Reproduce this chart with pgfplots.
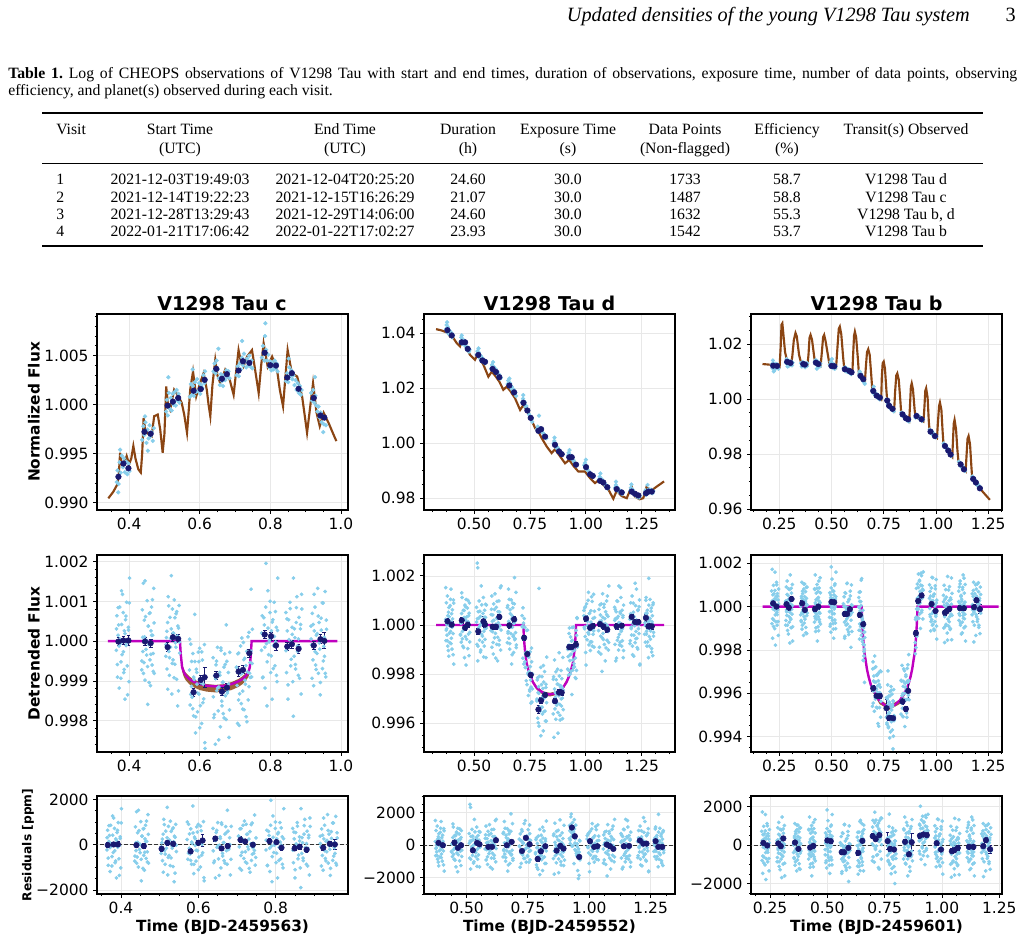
\documentclass[border=0pt]{standalone}
\usepackage{fontspec}
\setmainfont{Liberation Serif}
\newfontfamily\dv{DejaVu Sans}
\usepackage{pgfplots}
\usepackage{pgfplotstable}
\pgfplotsset{compat=1.18}
\definecolor{sky}{RGB}{135,206,235}
\definecolor{mnb}{RGB}{25,25,112}
\definecolor{brn}{RGB}{139,69,19}
\definecolor{mag}{RGB}{191,0,191}
\pgfplotsset{
  P/.style={scale only axis, width=188.25pt, anchor=north west,
    axis line style={line width=1.0pt},
    tick align=outside, tick pos=left,
    major tick length=2.8pt, minor tick length=1.6pt,
    tick style={black, line width=0.6pt},
    xmajorgrids, ymajorgrids,
    major grid style={black!9, line width=0.5pt},
    tick label style={font=\fontsize{11.6}{13}\dv},
  },
  sc/.style={only marks, mark=*, mark size=1.2pt, color=sky, mark options={draw=none, fill=sky}},
  sc1/.style={only marks, mark=*, mark size=1.4pt, color=sky, mark options={draw=none, fill=sky}},
  bn/.style={only marks, mark=*, mark size=2.1pt, color=mnb, mark options={draw=none, fill=mnb}},
  bne/.style={only marks, mark=*, mark size=2.1pt, color=mnb, mark options={draw=none, fill=mnb},
    error bars/.cd, y dir=both, y explicit,
    error bar style={line width=0.7pt, color=mnb},
    error mark options={rotate=90, mark size=1.4pt, line width=0.7pt, color=mnb}},
}
% ---------------- column 1 (V1298 Tau c) ----------------
\pgfplotstableread{
t r
0.3642 312
0.3668 -587
0.3689 845
0.3716 -123
0.3738 56
0.3765 -934
0.3787 421
0.3812 1180
0.3839 -266
0.3861 -712
0.3884 190
0.3910 633
0.3933 -45
0.3958 -1350
0.3981 278
0.4006 964
0.3638 -230
0.3654 640
0.3670 -905
0.3687 150
0.3703 410
0.3719 -1180
0.3735 860
0.3752 -60
0.3768 -520
0.3784 1270
0.3800 -340
0.3817 30
0.3833 720
0.3849 -790
0.3865 260
0.3882 -1460
0.3898 540
0.3914 -110
0.3930 980
0.3947 -620
0.3963 -20
0.3979 350
0.3995 -1020
0.4012 1590
0.4361 -498
0.4386 97
0.4405 -810
0.4431 530
0.4452 1520
0.4477 -205
0.4498 14
0.4523 -640
0.4545 380
0.4568 -1040
0.4591 712
0.4616 -330
0.4637 148
0.4660 1045
0.4684 -760
0.4707 460
0.4358 -720
0.4373 790
0.4389 -260
0.4404 1460
0.4419 -540
0.4435 110
0.4450 -980
0.4466 620
0.4481 20
0.4496 -350
0.4512 1020
0.4527 -1590
0.4543 380
0.4558 -90
0.4573 700
0.4589 -470
0.4604 -1120
0.4620 260
0.4635 860
0.4650 -600
0.4666 150
0.4681 -310
0.4697 1330
0.4712 -810
0.5043 -88
0.5070 250
0.5094 -1210
0.5121 890
0.5145 -415
0.5172 65
0.5196 1650
0.5222 -560
0.5247 205
0.5273 -920
0.5298 590
0.5325 -150
0.5349 745
0.5375 -1630
0.5400 330
0.5427 -20
0.5039 -380
0.5056 90
0.5073 -700
0.5090 470
0.5107 1120
0.5124 -260
0.5141 -860
0.5158 600
0.5175 -150
0.5193 310
0.5210 -1330
0.5227 810
0.5244 -470
0.5261 200
0.5278 1040
0.5295 -580
0.5312 -40
0.5329 690
0.5347 -960
0.5364 130
0.5381 380
0.5398 -1250
0.5415 900
0.5432 -300
0.7451 -250
0.7455 1310
0.7471 -900
0.7484 -560
0.7491 300
0.7755 205
0.7783 -920
0.7816 590
0.7844 -150
0.7876 1960
0.7905 -1630
0.7934 330
0.7966 -20
0.7993 1005
0.8024 -370
0.8054 480
0.8083 -690
0.8115 120
0.8143 745
0.8174 -860
0.8203 270
0.7750 -230
0.7770 640
0.7790 -905
0.7810 150
0.7830 410
0.7850 -1180
0.7870 860
0.7890 -60
0.7910 -520
0.7930 1270
0.7950 -340
0.7970 30
0.7990 720
0.8010 -790
0.8030 260
0.8050 -1460
0.8070 540
0.8090 -110
0.8110 980
0.8130 -620
0.8150 -20
0.8170 350
0.8190 -1020
0.8210 1590
0.8443 -240
0.8472 560
0.8503 -1100
0.8531 40
0.8562 820
0.8592 -455
0.8620 170
0.8650 -1890
0.8681 312
0.8709 -587
0.8738 845
0.8768 -123
0.8797 56
0.8827 -934
0.8856 421
0.8885 1180
0.8440 720
0.8459 -790
0.8479 260
0.8499 -1460
0.8518 540
0.8538 -110
0.8557 980
0.8577 -620
0.8597 -20
0.8616 350
0.8636 -1020
0.8655 1590
0.8675 -380
0.8695 90
0.8714 -700
0.8734 470
0.8753 1120
0.8773 -260
0.8793 -860
0.8812 600
0.8832 -150
0.8851 310
0.8871 -1330
0.8891 810
0.9154 56
0.9181 -934
0.9212 421
0.9240 1180
0.9270 -266
0.9299 -712
0.9327 190
0.9356 633
0.9385 -45
0.9413 -1350
0.9443 278
0.9471 964
0.9500 -498
0.9529 97
0.9557 -810
0.9586 530
0.9150 380
0.9169 -90
0.9188 700
0.9207 -470
0.9226 -1120
0.9246 260
0.9265 860
0.9284 -600
0.9303 150
0.9322 -310
0.9342 1330
0.9361 -810
0.9380 470
0.9399 -200
0.9418 -1040
0.9438 580
0.9457 40
0.9476 -690
0.9495 960
0.9514 -130
0.9534 -380
0.9553 1250
0.9572 -900
0.9591 300
}\cAoot
\pgfplotstableread{
t d r
0.5714 50 1005
0.5745 -1340 -370
0.5771 -510 480
0.5802 -1700 -690
0.5829 -905 120
0.5859 675 1710
0.5887 -1905 -860
0.5917 -785 270
0.5944 -1305 -240
0.5974 -515 560
0.6001 -2180 -1100
0.6031 -1045 40
0.6058 -270 820
0.6089 -1550 -455
0.6116 -930 170
0.6145 -2555 -1450
0.5710 -726 230
0.5729 -1607 -640
0.5748 -74 905
0.5767 -1140 -150
0.5786 -1412 -410
0.5806 -312 700
0.5825 -1879 -860
0.5844 -965 60
0.5863 -512 520
0.5882 -2309 -1270
0.5902 -706 340
0.5921 -1082 -30
0.5940 -1779 -720
0.5959 -276 790
0.5978 -1332 -260
0.5998 -179 900
0.6017 -1623 -540
0.6036 -977 110
0.6055 -2071 -980
0.6074 -475 620
0.6094 -1079 20
0.6113 -1453 -350
0.6132 -86 1020
0.6151 -2700 -1590
0.6385 -1401 -266
0.6414 -1847 -712
0.6447 -945 190
0.6476 -502 633
0.6508 -1180 -45
0.6538 -2485 -1350
0.6569 -857 278
0.6600 -171 964
0.6630 -1628 -498
0.6661 -1030 97
0.6691 -1932 -810
0.6722 -585 530
0.6752 412 1520
0.6783 -1307 -205
0.6814 -1082 14
0.6844 -1730 -640
0.6380 -415 720
0.6400 -1925 -790
0.6421 -875 260
0.6441 -2595 -1460
0.6462 -595 540
0.6482 -1245 -110
0.6502 -155 980
0.6523 -1755 -620
0.6543 -1155 -20
0.6564 -785 350
0.6584 -2155 -1020
0.6605 -232 900
0.6625 -1510 -380
0.6645 -1038 90
0.6666 -1826 -700
0.6686 -652 470
0.6707 -319 800
0.6727 -1375 -260
0.6747 -1971 -860
0.6768 -506 600
0.6788 -1252 -150
0.6809 -788 310
0.6829 -2424 -1330
0.6850 -280 810
0.7043 -660 380
0.7072 -2070 -1040
0.7104 -298 712
0.7131 -1325 -330
0.7161 -832 148
0.7192 80 1045
0.7219 -1710 -760
0.7249 -465 460
0.7280 -983 -88
0.7307 -615 250
0.7337 -2030 -1210
0.7367 110 890
0.7396 -1145 -415
0.7425 -535 65
0.7040 -654 380
0.7059 -1116 -90
0.7079 -318 700
0.7099 -1480 -470
0.7118 -2121 -1120
0.7138 -731 260
0.7157 -121 860
0.7177 -1571 -600
0.7197 -812 150
0.7216 -1257 -310
0.7236 -31 900
0.7255 -1726 -810
0.7275 -430 470
0.7295 -1084 -200
0.7314 -1902 -1040
0.7334 -257 580
0.7353 -774 40
0.7373 -1479 -690
0.7393 222 960
0.7412 -806 -130
0.7432 -913 -380
}\cAit
\pgfplotstableread{
t n
0.3650 0.99210
0.3672 0.99330
0.3690 0.99105
0.3701 0.99190
0.3728 0.99412
0.3745 0.99540
0.3760 0.99305
0.3790 0.99480
0.3822 0.99362
0.3851 0.99452
0.3880 0.99310
0.3912 0.99420
0.3950 0.99290
0.3985 0.99398
0.4010 0.99322
0.4370 0.99640
0.4402 0.99780
0.4430 0.99690
0.4450 0.99880
0.4462 0.99820
0.4490 0.99610
0.4520 0.99745
0.4530 0.99530
0.4551 0.99655
0.4580 0.99790
0.4612 0.99680
0.4640 0.99720
0.4670 0.99630
0.4700 0.99760
0.5045 0.99930
0.5070 1.00050
0.5095 0.99890
0.5110 1.00280
0.5122 1.00120
0.5150 0.99960
0.5178 1.00070
0.5205 0.99940
0.5232 1.00110
0.5260 1.00000
0.5290 1.00130
0.5318 0.99990
0.5345 1.00150
0.5372 1.00040
0.5400 1.00110
0.5428 1.00020
0.5720 1.00080
0.5750 1.00210
0.5780 1.00100
0.5800 1.00360
0.5808 1.00190
0.5835 1.00090
0.5865 1.00230
0.5895 1.00130
0.5925 1.00260
0.5955 1.00140
0.5985 1.00220
0.6015 1.00110
0.6045 1.00200
0.6075 1.00170
0.6105 1.00300
0.6135 1.00220
0.6150 1.00340
0.6390 1.00340
0.6420 1.00420
0.6450 1.00320
0.6478 1.00450
0.6508 1.00360
0.6530 1.00570
0.6540 1.00270
0.6570 1.00200
0.6600 1.00310
0.6630 1.00240
0.6660 1.00190
0.6690 1.00300
0.6720 1.00250
0.6750 1.00350
0.6780 1.00280
0.6815 1.00340
0.6845 1.00270
0.7045 1.00300
0.7075 1.00390
0.7105 1.00290
0.7135 1.00420
0.7165 1.00360
0.7195 1.00480
0.7200 1.00650
0.7225 1.00400
0.7255 1.00520
0.7285 1.00440
0.7315 1.00380
0.7345 1.00470
0.7375 1.00400
0.7405 1.00500
0.7435 1.00390
0.7465 1.00450
0.7490 1.00370
0.7760 1.00480
0.7790 1.00600
0.7820 1.00520
0.7835 1.00450
0.7850 1.00700
0.7860 1.00830
0.7880 1.00560
0.7910 1.00450
0.7940 1.00510
0.7970 1.00380
0.8000 1.00440
0.8030 1.00350
0.8060 1.00420
0.8090 1.00360
0.8120 1.00450
0.8150 1.00370
0.8180 1.00420
0.8205 1.00340
0.8445 1.00240
0.8475 1.00320
0.8505 1.00230
0.8520 1.00470
0.8535 1.00380
0.8565 1.00290
0.8595 1.00350
0.8625 1.00260
0.8655 1.00300
0.8685 1.00200
0.8715 1.00250
0.8745 1.00150
0.8775 1.00220
0.8805 1.00120
0.8835 1.00190
0.8865 1.00100
0.8885 1.00150
0.9155 1.00120
0.9185 1.00040
0.9215 1.00150
0.9245 1.00020
0.9265 1.00280
0.9275 1.00090
0.9305 0.99990
0.9335 0.99930
0.9365 0.99980
0.9395 0.99870
0.9425 0.99920
0.9455 0.99820
0.9485 0.99880
0.9500 0.99720
0.9515 0.99800
0.9545 0.99860
0.9575 0.99790
}\cAnc
\pgfplotstableread{
t n
0.341 0.99044
0.355 0.99110
0.367 0.99189
0.371 0.99300
0.3745 0.99510
0.379 0.99390
0.384 0.99375
0.393 0.99476
0.400 0.99392
0.406 0.99450
0.412 0.99578
0.418 0.99450
0.426 0.99341
0.433 0.99307
0.437 0.99500
0.441 0.99865
0.445 0.99760
0.450 0.99713
0.464 0.99679
0.468 0.99800
0.471 0.99882
0.481 0.99899
0.488 0.99750
0.495 0.99510
0.500 0.99700
0.505 1.00186
0.510 1.00000
0.516 0.99949
0.5275 1.00152
0.540 1.00084
0.549 1.00017
0.556 0.99900
0.564 0.99713
0.568 0.99900
0.573 1.00152
0.581 1.00338
0.590 1.00084
0.601 1.00220
0.611 1.00321
0.620 1.00152
0.625 1.00000
0.630 0.99882
0.636 1.00200
0.644 1.00456
0.650 1.00300
0.658 1.00220
0.672 1.00355
0.685 1.00253
0.696 1.00101
0.702 1.00300
0.710 1.00557
0.716 1.00450
0.724 1.00389
0.734 1.00490
0.748 1.00557
0.755 1.00400
0.767 1.00118
0.774 1.00400
0.781 1.00625
0.7925 1.00389
0.805 1.00490
0.819 1.00355
0.827 1.00150
0.836 0.99983
0.842 1.00250
0.849 1.00557
0.861 1.00321
0.876 1.00287
0.890 1.00084
0.897 0.99900
0.904 0.99713
0.912 0.99950
0.921 1.00220
0.931 0.99916
0.940 0.99780
0.951 0.99916
0.965 0.99814
0.976 0.99720
0.987 0.99628
}\cAtr
\pgfplotstableread{
t n
0.3697 0.99264
0.3840 0.99399
0.3980 0.99351
0.4435 0.99723
0.4610 0.99703
0.5090 0.99990
0.5240 1.00030
0.5390 1.00068
0.5825 1.00142
0.6030 1.00159
0.6140 1.00253
0.6470 1.00365
0.6630 1.00264
0.6770 1.00311
0.7100 1.00348
0.7225 1.00443
0.7405 1.00426
0.7840 1.00530
0.8000 1.00402
0.8160 1.00399
0.8480 1.00277
0.8610 1.00321
0.8800 1.00162
0.9230 1.00068
0.9420 0.99889
0.9530 0.99868
}\cAbn
\pgfplotstableread{
t d e
0.3697 -10 110
0.3840 17 110
0.3980 17 120
0.4450 -8 100
0.4610 -50 100
0.5090 -150 120
0.5240 100 100
0.5390 60 100
0.5825 -1285 100
0.6030 -975 110
0.6140 -908 250
0.6470 -865 110
0.6630 -1270 100
0.6770 -1170 100
0.7100 -765 130
0.7225 -723 100
0.7405 -303 100
0.7840 168 110
0.8020 126 100
0.8160 -109 120
0.8480 -134 110
0.8610 -76 100
0.8800 -193 120
0.9230 -109 100
0.9420 50 110
0.9530 8 200
}\cAbd
\pgfplotstableread{
t r e
0.3660 -15 110
0.3810 15 100
0.3920 15 110
0.4400 -15 100
0.4590 -58 100
0.5050 -174 110
0.5200 87 100
0.5350 43 100
0.5800 -290 110
0.6000 87 100
0.6110 188 280
0.6440 275 110
0.6600 -160 100
0.6760 -58 100
0.7090 217 130
0.7210 145 100
0.7410 0 100
0.7840 160 110
0.8020 116 100
0.8150 -130 120
0.8490 -160 110
0.8620 -87 100
0.8800 -217 120
0.9230 -130 100
0.9400 43 110
0.9530 15 200
}\cAbr
% ---------------- column 2 (V1298 Tau d) ----------------
\pgfplotstableread{
t r
0.3732 1520
0.3755 -205
0.3781 14
0.3803 -640
0.3828 380
0.3851 -1040
0.3875 712
0.3899 -330
0.3922 148
0.3946 1045
0.3971 -760
0.3994 460
0.4018 -88
0.4041 250
0.4065 -1210
0.4089 890
0.3728 230
0.3744 -640
0.3760 905
0.3775 -150
0.3791 -410
0.3807 1180
0.3823 -860
0.3839 60
0.3855 520
0.3870 -1270
0.3886 340
0.3902 -30
0.3918 -720
0.3934 790
0.3950 -260
0.3966 1460
0.3981 -540
0.3997 110
0.4013 -980
0.4029 620
0.4045 20
0.4061 -350
0.4076 1020
0.4092 -1590
0.4394 -415
0.4421 65
0.4449 1310
0.4476 -560
0.4504 205
0.4531 -920
0.4559 590
0.4586 -150
0.4614 745
0.4641 -1630
0.4669 330
0.4696 -20
0.4724 1005
0.4751 -370
0.4779 480
0.4806 -690
0.4389 -380
0.4408 90
0.4426 -700
0.4444 470
0.4463 1120
0.4481 -260
0.4499 -860
0.4517 600
0.4536 -150
0.4554 310
0.4572 -1330
0.4591 810
0.4609 -470
0.4627 200
0.4646 1040
0.4664 -580
0.4682 -40
0.4701 690
0.4719 -960
0.4737 130
0.4756 380
0.4774 -1250
0.4792 900
0.4810 -300
0.5114 120
0.5143 2520
0.5165 2330
0.5172 -860
0.5201 270
0.5229 -240
0.5258 560
0.5287 -1100
0.5316 40
0.5345 820
0.5374 -455
0.5402 170
0.5431 -1300
0.5460 312
0.5489 -587
0.5518 845
0.5546 -123
0.5110 720
0.5129 -790
0.5148 260
0.5167 -1460
0.5186 540
0.5206 -110
0.5225 980
0.5244 -620
0.5263 -20
0.5282 350
0.5302 -1020
0.5321 1590
0.5340 -380
0.5359 90
0.5378 -700
0.5398 470
0.5417 1120
0.5436 -260
0.5455 -860
0.5474 600
0.5494 -150
0.5513 310
0.5532 -1330
0.5551 810
0.5765 421
0.5794 1180
0.5824 -266
0.5853 -712
0.5882 190
0.5912 633
0.5941 -45
0.5971 -1350
0.6000 278
0.6029 964
0.6059 -498
0.6088 97
0.6118 -810
0.6147 530
0.6176 1520
0.6206 -205
0.5760 -230
0.5779 640
0.5799 -905
0.5819 150
0.5838 410
0.5858 -1180
0.5877 860
0.5897 -60
0.5917 -520
0.5936 1270
0.5956 -340
0.5975 30
0.5995 720
0.6015 -790
0.6034 260
0.6054 -1460
0.6073 540
0.6093 -110
0.6113 980
0.6132 -620
0.6152 -20
0.6171 350
0.6191 -1020
0.6211 1590
0.6493 712
0.6519 -330
0.6546 148
0.6572 1045
0.6598 -760
0.6625 460
0.6651 -88
0.6677 250
0.6703 -1210
0.6730 890
0.6756 -415
0.6782 65
0.6809 1930
0.6835 -560
0.6861 205
0.6887 -920
0.6489 -720
0.6506 790
0.6524 -260
0.6541 1460
0.6559 -540
0.6576 110
0.6594 -980
0.6611 620
0.6629 20
0.6646 -350
0.6664 1020
0.6681 -1590
0.6699 380
0.6716 -90
0.6734 700
0.6751 -470
0.6769 -1120
0.6786 260
0.6804 860
0.6821 -600
0.6839 150
0.6856 -310
0.6874 1330
0.6891 -810
0.7150 380
0.7155 -45
0.7170 -90
0.7184 -1350
0.7190 700
0.9564 -220
0.9583 -1850
0.9588 -422
0.9602 300
0.9616 264
0.9621 -900
0.9916 590
0.9947 -150
0.9978 745
1.0009 -1630
1.0041 330
1.0072 -20
1.0103 1005
1.0134 -370
1.0166 480
1.0197 -690
1.0228 120
1.0259 1150
1.0291 -860
1.0322 270
1.0353 -240
1.0384 560
0.9910 380
0.9931 -90
0.9952 700
0.9973 -470
0.9994 -1120
1.0015 260
1.0035 860
1.0056 -600
1.0077 150
1.0098 -310
1.0119 1330
1.0140 -810
1.0160 470
1.0181 -200
1.0202 -1040
1.0223 580
1.0244 40
1.0265 -690
1.0285 960
1.0306 -130
1.0327 -380
1.0348 1250
1.0369 -900
1.0390 300
1.0575 -1100
1.0605 40
1.0635 820
1.0665 -455
1.0695 170
1.0725 -1890
1.0755 312
1.0785 -587
1.0815 845
1.0845 -123
1.0875 56
1.0905 -934
1.0935 421
1.0965 1180
1.0995 -266
1.1025 -712
1.0570 -230
1.0590 640
1.0610 -905
1.0630 150
1.0650 410
1.0670 -1180
1.0690 860
1.0710 -60
1.0730 -520
1.0750 1270
1.0770 -340
1.0790 30
1.0810 720
1.0830 -790
1.0850 260
1.0870 -1460
1.0890 540
1.0910 -110
1.0930 980
1.0950 -620
1.0970 -20
1.0990 350
1.1010 -1020
1.1030 1590
1.1293 190
1.1319 633
1.1346 -45
1.1372 -1350
1.1398 278
1.1425 964
1.1451 -498
1.1477 97
1.1503 -810
1.1530 530
1.1556 1520
1.1582 -205
1.1609 14
1.1635 -640
1.1661 380
1.1687 -1040
1.1289 720
1.1306 -790
1.1324 260
1.1341 -1460
1.1359 540
1.1376 -110
1.1394 980
1.1411 -620
1.1429 -20
1.1446 350
1.1464 -1020
1.1481 1590
1.1499 -380
1.1516 90
1.1534 -700
1.1551 470
1.1569 1120
1.1586 -260
1.1604 -860
1.1621 600
1.1639 -150
1.1656 310
1.1674 -1330
1.1691 810
1.1975 -760
1.2004 460
1.2034 -88
1.2063 250
1.2092 -1210
1.2122 890
1.2151 -415
1.2181 65
1.2210 1700
1.2239 -560
1.2269 205
1.2298 -920
1.2328 590
1.2357 -150
1.2386 745
1.2416 -1630
1.1970 230
1.1989 -640
1.2009 905
1.2029 -150
1.2048 -410
1.2068 1180
1.2087 -860
1.2107 60
1.2127 520
1.2146 -1270
1.2166 340
1.2185 -30
1.2205 -720
1.2225 790
1.2244 -260
1.2264 1460
1.2283 -540
1.2303 110
1.2323 -980
1.2342 620
1.2362 20
1.2381 -350
1.2401 1020
1.2421 -1590
1.2633 330
1.2659 -20
1.2686 1005
1.2712 -370
1.2738 480
1.2765 -690
1.2791 120
1.2817 1900
1.2843 -860
1.2870 270
1.2896 -240
1.2922 560
1.2949 -1100
1.2975 40
1.3001 820
1.3027 -455
1.2629 -380
1.2646 90
1.2664 -700
1.2681 470
1.2699 1120
1.2716 -260
1.2734 -860
1.2751 600
1.2769 -150
1.2786 310
1.2804 -1330
1.2821 810
1.2839 -470
1.2856 200
1.2874 1040
1.2891 -580
1.2909 -40
1.2926 690
1.2944 -960
1.2961 130
1.2979 380
1.2996 -1250
1.3014 900
1.3031 -300
}\cBoot
\pgfplotstableread{
t d r
0.7215 78 278
0.7246 264 964
0.7275 -1498 -498
0.7305 -1183 97
0.7335 -2270 -810
0.7366 -1100 530
0.7395 -210 1520
0.7425 -2025 -205
0.7455 -1896 14
0.7486 -2630 -640
0.7515 -1690 380
0.7545 -3180 -1040
0.7575 -1498 712
0.7605 -2600 -330
0.7210 -570 -470
0.7230 -1590 -1120
0.7250 -490 260
0.7270 -90 860
0.7290 -1735 -600
0.7310 -1125 150
0.7330 -1720 -310
0.7350 -220 1330
0.7370 -2430 -810
0.7390 -1220 470
0.7410 -1960 -200
0.7430 -2870 -1040
0.7450 -1310 580
0.7470 -1905 40
0.7490 -2690 -690
0.7510 -1090 960
0.7530 -2235 -130
0.7550 -2530 -380
0.7570 -940 1250
0.7590 -3135 -900
0.7610 -1980 300
0.7814 -3017 -452
0.7843 -2145 445
0.7872 -3980 -1360
0.7901 -2780 -140
0.7905 1490 4130
0.7929 -3348 -688
0.7958 -3035 -350
0.7987 -4510 -1810
0.8016 -2425 290
0.8044 -3345 -615
0.8073 -2880 -135
0.8101 -1650 1110
0.8131 -3530 -760
0.8159 -2775 5
0.8188 -3910 -1120
0.8216 -2410 390
0.8245 -3160 -350
0.7810 -3090 -530
0.7829 -2235 340
0.7848 -3795 -1205
0.7867 -2755 -150
0.7886 -2510 110
0.7906 -4116 -1480
0.7925 -2092 560
0.7944 -3027 -360
0.7963 -3502 -820
0.7982 -1728 970
0.8002 -3348 -640
0.8021 -2986 -270
0.8040 -2105 620
0.8059 -3624 -890
0.8078 -2582 160
0.8098 -4311 -1560
0.8117 -2320 440
0.8136 -2978 -210
0.8155 -1897 880
0.8174 -3505 -720
0.8194 -2911 -120
0.8213 -2543 250
0.8232 -3915 -1120
0.8251 -1307 1490
0.8545 -2210 595
0.8574 -4575 -1780
0.8604 -2605 180
0.8633 -2945 -170
0.8663 -1905 855
0.8692 -3270 -520
0.8721 -2405 330
0.8751 -3560 -840
0.8780 -2730 -30
0.8809 -1130 1560
0.8839 -3675 -1010
0.8868 -2525 120
0.8898 -3010 -390
0.8927 -2185 410
0.8956 -3815 -1250
0.8986 -2650 -110
0.8540 -3620 -820
0.8559 -2106 690
0.8579 -3152 -360
0.8599 -1424 1360
0.8618 -3415 -640
0.8638 -2756 10
0.8657 -3838 -1080
0.8677 -2229 520
0.8697 -2820 -80
0.8716 -3181 -450
0.8736 -1802 920
0.8755 -4404 -1690
0.8775 -2425 280
0.8795 -2882 -190
0.8814 -2077 600
0.8834 -3231 -570
0.8853 -3866 -1220
0.8873 -2470 160
0.8893 -1854 760
0.8912 -3298 -700
0.8932 -2532 50
0.8951 -2977 -410
0.8971 -1321 1230
0.8991 -3445 -910
0.9194 -998 1212
0.9222 -1837 313
0.9250 -345 1745
0.9278 -1233 777
0.9306 -974 956
0.9334 -1884 -34
0.9362 -959 821
0.9391 -100 1580
0.9419 -1426 134
0.9447 -1722 -312
0.9475 -1690 -510
0.9503 -1017 -67
0.9531 -1345 -745
0.9559 -2180 -2050
0.9189 -1797 420
0.9208 -1287 890
0.9227 -2037 100
0.9246 -820 1270
0.9264 -122 1920
0.9283 -1450 540
0.9302 -1999 -60
0.9321 -488 1400
0.9339 -1186 650
0.9358 -659 1110
0.9377 -2832 -1130
0.9396 -625 1010
0.9414 -1841 -270
0.9433 -1060 400
0.9452 -88 1240
0.9471 -1577 -380
0.9489 -1711 -640
0.9508 -765 90
0.9527 -2142 -1560
0.9546 -850 -470
}\cBit
\pgfplotstableread{
t n
0.3740 1.0415
0.3770 1.0430
0.3790 1.0440
0.3800 1.0405
0.3830 1.0422
0.3860 1.0398
0.3900 1.0410
0.3940 1.0392
0.3980 1.0402
0.4020 1.0385
0.4060 1.0392
0.4400 1.0370
0.4430 1.0385
0.4450 1.0392
0.4460 1.0362
0.4490 1.0378
0.4530 1.0360
0.4570 1.0372
0.4610 1.0355
0.4650 1.0350
0.4690 1.0340
0.4730 1.0348
0.4770 1.0333
0.4800 1.0340
0.5120 1.0322
0.5150 1.0335
0.5180 1.0318
0.5200 1.0345
0.5210 1.0330
0.5250 1.0310
0.5290 1.0318
0.5330 1.0300
0.5370 1.0310
0.5410 1.0295
0.5450 1.0302
0.5490 1.0290
0.5530 1.0298
0.5770 1.0272
0.5800 1.0285
0.5840 1.0268
0.5850 1.0295
0.5880 1.0278
0.5920 1.0260
0.5960 1.0270
0.6000 1.0255
0.6040 1.0260
0.6080 1.0245
0.6120 1.0250
0.6160 1.0235
0.6200 1.0238
0.6500 1.0215
0.6530 1.0228
0.6570 1.0210
0.6580 1.0235
0.6610 1.0218
0.6650 1.0200
0.6690 1.0205
0.6730 1.0190
0.6770 1.0195
0.6810 1.0180
0.6850 1.0185
0.6880 1.0172
0.7160 1.0150
0.7190 1.0162
0.7200 1.0175
0.7220 1.0145
0.7260 1.0150
0.7300 1.0132
0.7340 1.0135
0.7380 1.0120
0.7420 1.0118
0.7460 1.0105
0.7500 1.0100
0.7540 1.0090
0.7580 1.0088
0.7600 1.0078
0.7820 1.0052
0.7850 1.0060
0.7880 1.0042
0.7905 1.0100
0.7910 1.0050
0.7950 1.0055
0.7990 1.0048
0.8030 1.0052
0.8070 1.0038
0.8110 1.0035
0.8150 1.0028
0.8190 1.0022
0.8230 1.0018
0.8560 1.0000
0.8590 1.0008
0.8600 1.0020
0.8620 0.9992
0.8650 0.9998
0.8690 0.9982
0.8730 0.9985
0.8770 0.9972
0.8810 0.9975
0.8850 0.9965
0.8890 0.9968
0.8930 0.9958
0.8970 0.9960
0.9200 0.9955
0.9230 0.9965
0.9260 0.9950
0.9270 0.9975
0.9290 0.9958
0.9330 0.9945
0.9370 0.9952
0.9410 0.9940
0.9450 0.9938
0.9490 0.9930
0.9530 0.9925
0.9570 0.9918
0.9600 0.9922
0.9930 0.9920
0.9960 0.9928
0.9990 0.9912
1.0000 0.9940
1.0030 0.9915
1.0070 0.9902
1.0110 0.9900
1.0150 0.9890
1.0190 0.9892
1.0230 0.9882
1.0270 0.9885
1.0310 0.9878
1.0350 0.9880
1.0590 0.9868
1.0620 0.9878
1.0650 0.9890
1.0660 0.9862
1.0700 0.9870
1.0740 0.9858
1.0780 0.9862
1.0820 0.9850
1.0860 0.9852
1.0900 0.9842
1.0940 0.9845
1.0980 0.9835
1.1010 0.9838
1.1310 0.9838
1.1340 0.9848
1.1350 0.9860
1.1380 0.9832
1.1420 0.9838
1.1460 0.9825
1.1500 0.9830
1.1540 0.9820
1.1580 0.9825
1.1620 0.9815
1.1660 0.9820
1.1990 0.9828
1.2020 0.9838
1.2040 0.9850
1.2060 0.9822
1.2100 0.9830
1.2140 0.9815
1.2180 0.9820
1.2220 0.9810
1.2260 0.9815
1.2300 0.9805
1.2340 0.9812
1.2380 0.9802
1.2410 0.9808
1.2640 0.9815
1.2670 0.9828
1.2700 0.9812
1.2740 0.9822
1.2760 0.9848
1.2780 0.9830
1.2820 0.9820
1.2860 0.9832
1.2900 0.9822
1.2940 0.9830
1.2980 0.9818
1.3020 0.9826
}\cBnc
\pgfplotstableread{
t n
0.330 1.0415
0.355 1.0410
0.381 1.0402
0.393 1.0388
0.400 1.0392
0.4225 1.0364
0.437 1.0352
0.445 1.0376
0.455 1.0362
0.467 1.0345
0.482 1.0321
0.504 1.0303
0.515 1.0321
0.528 1.0305
0.542 1.0285
0.564 1.0242
0.579 1.0260
0.595 1.0245
0.613 1.0224
0.631 1.0194
0.646 1.0206
0.662 1.0190
0.683 1.0164
0.706 1.0121
0.721 1.0139
0.736 1.0118
0.7535 1.0091
0.773 1.0055
0.788 1.0042
0.803 1.0018
0.825 0.9988
0.847 0.9964
0.862 0.9978
0.885 0.9952
0.907 0.9927
0.926 0.9939
0.944 0.9918
0.9665 0.9897
0.996 0.9897
1.019 0.9873
1.041 0.9855
1.060 0.9867
1.078 0.9848
1.100 0.9833
1.123 0.9798
1.138 0.9827
1.160 0.9808
1.183 0.9800
1.205 0.9842
1.220 0.9806
1.240 0.9796
1.257 0.9800
1.272 0.9842
1.287 0.9824
1.317 0.9842
1.350 0.9861
}\cBtr
\pgfplotstableread{
t n
0.381 1.0411
0.400 1.0392
0.445 1.0367
0.460 1.0367
0.4717 1.0343
0.519 1.0321
0.537 1.0301
0.549 1.0296
0.583 1.0270
0.598 1.0259
0.613 1.0240
0.658 1.0210
0.679 1.0185
0.721 1.0147
0.7385 1.0119
0.7535 1.0092
0.788 1.0045
0.800 1.0051
0.8175 1.0024
0.862 0.9994
0.880 0.9970
0.892 0.9960
0.926 0.9949
0.937 0.9949
0.956 0.9922
1.001 0.9913
1.019 0.9887
1.031 0.9881
1.0635 0.9863
1.0785 0.9857
1.096 0.9840
1.138 0.9833
1.1605 0.9821
1.205 0.9824
1.220 0.9816
1.235 0.9810
1.269 0.9818
1.280 0.9824
1.295 0.9824
}\cBbn
\pgfplotstableread{
t d e
0.381 150 120
0.400 14 120
0.445 190 110
0.460 -110 110
0.4717 14 110
0.519 -260 110
0.542 150 200
0.549 14 110
0.583 -70 110
0.598 -70 110
0.613 330 110
0.658 -14 110
0.679 230 110
0.724 -520 110
0.7385 -1180 110
0.7535 -2030 110
0.788 -3440 180
0.800 -3070 130
0.8175 -2850 110
0.862 -3100 110
0.880 -2750 110
0.892 -2750 110
0.926 -900 110
0.937 -900 110
0.956 -800 110
1.001 260 110
1.019 -110 110
1.031 -40 110
1.0635 40 110
1.0785 -55 110
1.096 -190 120
1.138 -55 110
1.1605 -27 110
1.205 330 110
1.220 120 110
1.235 120 110
1.269 290 150
1.280 -55 110
1.295 -55 110
}\cBbd
\pgfplotstableread{
t r e
0.386 145 110
0.404 0 110
0.451 165 110
0.465 -165 110
0.478 0 110
0.526 -310 110
0.543 145 180
0.553 60 110
0.589 -100 110
0.604 -100 110
0.620 310 110
0.664 0 110
0.684 205 110
0.726 -350 110
0.742 450 110
0.757 60 110
0.790 -845 150
0.803 -370 110
0.821 -60 110
0.867 -330 110
0.882 -40 110
0.895 -205 110
0.929 1090 110
0.941 555 110
0.959 -720 110
1.003 250 110
1.020 -100 110
1.033 -60 110
1.071 40 110
1.084 -60 110
1.098 -225 110
1.141 -60 110
1.162 -40 110
1.206 290 110
1.220 100 110
1.233 100 110
1.270 250 150
1.281 -100 110
1.297 -100 110
}\cBbr
% ---------------- column 3 (V1298 Tau b) ----------------
\pgfplotstableread{
t r
0.2141 65
0.2163 1720
0.2185 -560
0.2207 205
0.2229 -920
0.2251 590
0.2273 -150
0.2295 745
0.2317 -1780
0.2339 330
0.2361 -20
0.2383 1005
0.2405 -370
0.2427 480
0.2449 -690
0.2471 120
0.2137 720
0.2152 -790
0.2167 260
0.2181 -1460
0.2196 540
0.2210 -110
0.2225 980
0.2239 -620
0.2254 -20
0.2269 350
0.2283 -1020
0.2298 1590
0.2312 -380
0.2327 90
0.2342 -700
0.2356 470
0.2371 1120
0.2385 -260
0.2400 -860
0.2415 600
0.2429 -150
0.2444 310
0.2458 -1330
0.2473 810
0.2811 -860
0.2833 270
0.2855 -240
0.2877 560
0.2899 -1100
0.2921 40
0.2943 820
0.2965 -455
0.2987 170
0.3009 -1680
0.3031 312
0.3053 -587
0.3075 845
0.3097 -123
0.3119 56
0.3141 -934
0.2807 230
0.2822 -640
0.2837 905
0.2851 -150
0.2866 -410
0.2880 1180
0.2895 -860
0.2909 60
0.2924 520
0.2939 -1270
0.2953 340
0.2968 -30
0.2982 -720
0.2997 790
0.3012 -260
0.3026 1460
0.3041 -540
0.3055 110
0.3070 -980
0.3085 620
0.3099 20
0.3114 -350
0.3128 1020
0.3143 -1590
0.3530 14
0.3551 -640
0.3571 380
0.3592 -1040
0.3612 712
0.3633 -330
0.3654 148
0.3674 1045
0.3695 -760
0.3715 460
0.3736 -88
0.3757 250
0.3777 -1210
0.3798 890
0.3818 -415
0.3839 65
0.3527 -380
0.3541 90
0.3554 -700
0.3568 470
0.3582 1120
0.3596 -260
0.3609 -860
0.3623 600
0.3637 -150
0.3651 310
0.3664 -1330
0.3678 810
0.3692 -470
0.3706 200
0.3719 1040
0.3733 -580
0.3747 -40
0.3761 690
0.3774 -960
0.3788 130
0.3802 380
0.3816 -1250
0.3829 900
0.3843 -300
0.4189 820
0.4208 -455
0.4227 170
0.4245 -1150
0.4264 312
0.4283 -587
0.4302 845
0.4320 -123
0.4339 56
0.4358 -934
0.4377 421
0.4395 1180
0.4414 -266
0.4433 -712
0.4452 190
0.4470 633
0.4186 -720
0.4199 790
0.4211 -260
0.4224 1460
0.4236 -540
0.4249 110
0.4261 -980
0.4274 620
0.4286 20
0.4299 -350
0.4311 1020
0.4324 -1590
0.4336 380
0.4349 -90
0.4361 700
0.4374 -470
0.4386 -1120
0.4399 260
0.4411 860
0.4424 -600
0.4436 150
0.4449 -310
0.4461 1330
0.4474 -810
0.4910 -498
0.4930 97
0.4950 -810
0.4970 530
0.4990 1830
0.5010 -205
0.5030 14
0.5050 -640
0.5070 380
0.5090 -1040
0.5110 712
0.5130 -330
0.5150 148
0.5170 1045
0.5190 -760
0.5210 460
0.4907 -230
0.4920 640
0.4933 -905
0.4947 150
0.4960 410
0.4973 -1180
0.4987 860
0.5000 -60
0.5013 -520
0.5027 1270
0.5040 -340
0.5053 30
0.5067 720
0.5080 -790
0.5093 260
0.5107 -1460
0.5120 540
0.5133 -110
0.5147 980
0.5160 -620
0.5173 -20
0.5187 350
0.5200 -1020
0.5213 1590
0.5574 -338
0.5601 0
0.5629 -1460
0.5656 640
0.5684 -665
0.5711 -185
0.5739 1060
0.5766 -810
0.5794 -45
0.5821 -1170
0.5849 340
0.5876 -400
0.5904 495
0.5931 -1880
0.5959 80
0.5986 -270
0.5569 130
0.5588 -340
0.5606 450
0.5624 -720
0.5643 -1370
0.5661 10
0.5679 610
0.5697 -850
0.5716 -100
0.5734 -560
0.5752 1080
0.5771 -1060
0.5789 220
0.5807 -450
0.5826 -1290
0.5844 330
0.5862 -210
0.5881 -940
0.5899 710
0.5917 -380
0.5936 -630
0.5954 1000
0.5972 -1150
0.5990 50
0.6309 -22
0.6328 664
0.6347 -798
0.6366 -203
0.6384 -1110
0.6403 230
0.6422 1220
0.6441 -505
0.6306 420
0.6319 -1090
0.6331 -40
0.6344 -1500
0.6356 240
0.6369 -410
0.6381 680
0.6394 -920
0.6406 -320
0.6419 50
0.6431 -1320
0.6444 1290
0.9125 390
0.9137 -140
0.9142 -70
0.9158 1500
0.9162 880
0.9175 110
0.9187 -540
0.9192 480
0.9208 1170
0.9212 1212
0.9225 -340
0.9237 170
0.9242 710
0.9258 -1010
0.9262 648
0.9275 990
0.9287 1545
0.9292 340
0.9308 1430
0.9312 -260
0.9325 -170
0.9337 960
0.9342 430
0.9358 800
0.9362 412
0.9375 -570
0.9387 750
0.9392 1600
0.9692 1005
0.9715 -370
0.9738 480
0.9761 -690
0.9784 120
0.9807 1350
0.9830 -860
0.9853 270
0.9876 -240
0.9899 560
0.9922 -1100
0.9945 40
0.9968 820
0.9991 -455
1.0014 170
1.0037 -1500
0.9688 380
0.9703 -90
0.9718 700
0.9734 -470
0.9749 -1120
0.9765 260
0.9780 860
0.9796 -600
0.9811 150
0.9826 -310
0.9842 1330
0.9857 -810
0.9873 470
0.9888 -200
0.9903 -1040
0.9919 580
0.9934 40
0.9950 -690
0.9965 960
0.9980 -130
0.9996 -380
1.0011 1250
1.0027 -900
1.0042 300
1.0363 221
1.0390 980
1.0417 -466
1.0444 -912
1.0471 -10
1.0498 433
1.0525 -245
1.0552 -1550
1.0579 78
1.0606 764
1.0633 -698
1.0660 -103
1.0687 -1010
1.0714 330
1.0741 1320
1.0768 -405
1.0359 520
1.0377 -990
1.0395 60
1.0413 -1660
1.0431 340
1.0449 -310
1.0466 780
1.0484 -820
1.0502 -220
1.0520 150
1.0538 -1220
1.0556 1390
1.0574 -580
1.0592 -110
1.0610 -900
1.0628 270
1.0645 920
1.0663 -460
1.0681 -1060
1.0699 400
1.0717 -350
1.0735 110
1.0753 -1530
1.0771 610
1.1091 712
1.1112 -330
1.1133 148
1.1154 1045
1.1175 -760
1.1196 460
1.1217 -88
1.1238 250
1.1259 -1210
1.1280 890
1.1301 -415
1.1322 65
1.1343 1310
1.1364 -560
1.1385 205
1.1406 -920
1.1087 230
1.1101 -640
1.1115 905
1.1130 -150
1.1144 -410
1.1158 1180
1.1172 -860
1.1186 60
1.1201 520
1.1215 -1270
1.1229 340
1.1243 -30
1.1257 -720
1.1272 790
1.1286 -260
1.1300 1460
1.1314 -540
1.1328 110
1.1343 -980
1.1357 620
1.1371 20
1.1385 -350
1.1399 1020
1.1414 -1590
1.1733 590
1.1760 -150
1.1787 745
1.1814 -1630
1.1841 330
1.1868 -20
1.1895 1005
1.1922 -370
1.1949 480
1.1976 -690
1.2003 120
1.2030 1100
1.2057 -860
1.2084 270
1.2111 -240
1.2138 560
1.1729 -380
1.1747 90
1.1765 -700
1.1783 470
1.1801 1120
1.1819 -260
1.1836 -860
1.1854 600
1.1872 -150
1.1890 310
1.1908 -1330
1.1926 810
1.1944 -470
1.1962 200
1.1980 1040
1.1998 -580
1.2015 -40
1.2033 690
1.2051 -960
1.2069 130
1.2087 380
1.2105 -1250
1.2123 900
1.2141 -300
}\cCoot
\pgfplotstableread{
t d r
0.6459 -436 14
0.6478 -1510 -640
0.6497 -770 380
0.6516 -2470 -1040
0.6534 -988 712
0.6553 -2280 -330
0.6572 -1962 148
0.6591 -1175 1045
0.6456 -740 -380
0.6469 -560 90
0.6481 -1620 -700
0.6494 -640 470
0.6506 -170 1120
0.6519 -1745 -260
0.6531 -2490 -860
0.6544 -1190 600
0.6556 -2080 -150
0.6569 -1770 310
0.6581 -3500 -1330
0.6594 -1430 810
0.6963 -4600 -810
0.6990 -2550 1290
0.7017 -3905 -15
0.7044 -3475 465
0.7071 -2280 1710
0.7098 -4200 -160
0.7125 -3485 605
0.7152 -4650 -520
0.7179 -3180 990
0.7206 -3960 250
0.7233 -3105 1145
0.7260 -5520 -1230
0.7287 -3590 730
0.7314 -3970 380
0.7341 -2970 1405
0.7368 -4370 30
0.6959 -3705 70
0.6977 -2875 940
0.6995 -4453 -605
0.7013 -3432 450
0.7031 -3205 710
0.7049 -4829 -880
0.7066 -2823 1160
0.7084 -3776 240
0.7102 -4270 -220
0.7120 -2782 1300
0.7138 -4151 -40
0.7156 -3807 330
0.7174 -3142 1020
0.7192 -4678 -490
0.7210 -3653 560
0.7228 -5398 -1160
0.7245 -3422 840
0.7263 -4098 190
0.7281 -3033 1280
0.7299 -4659 -320
0.7317 -4075 280
0.7335 -3720 650
0.7353 -5106 -720
0.7371 -3002 1400
0.7632 -4200 380
0.7656 -5370 -790
0.7680 -4560 20
0.7704 -2970 1610
0.7728 -5540 -960
0.7752 -4410 170
0.7776 -4920 -340
0.7800 -4120 460
0.7824 -5780 -1200
0.7848 -4640 -60
0.7872 -3860 720
0.7896 -5135 -555
0.7920 -4510 70
0.7944 -6570 -1990
0.7968 -4368 212
0.7992 -5267 -687
0.7628 -5110 -530
0.7644 -4640 -60
0.7660 -5430 -850
0.7675 -4260 320
0.7691 -3610 970
0.7707 -4990 -410
0.7723 -5590 -1010
0.7739 -4130 450
0.7755 -4880 -300
0.7770 -4420 160
0.7786 -6060 -1480
0.7802 -3920 660
0.7818 -5200 -620
0.7834 -4530 50
0.7850 -3690 890
0.7866 -5310 -730
0.7881 -4770 -190
0.7897 -4040 540
0.7913 -5690 -1110
0.7929 -4600 -20
0.7945 -4350 230
0.7961 -5980 -1400
0.7976 -3830 750
0.7992 -5030 -450
0.8332 -3400 845
0.8357 -4328 -123
0.8382 -4114 56
0.8407 -5069 -934
0.8432 -3679 421
0.8457 -2875 1180
0.8482 -4276 -266
0.8507 -4677 -712
0.8532 -3720 190
0.8557 -3227 633
0.8582 -3860 -45
0.8607 -5110 -1350
0.8632 -3432 278
0.8657 -2686 964
0.8682 -4093 -498
0.8707 -3413 97
0.8328 -4964 -720
0.8345 -3430 790
0.8362 -4456 -260
0.8378 -2713 1460
0.8395 -4689 -540
0.8412 -4015 110
0.8428 -5082 -980
0.8445 -3452 620
0.8462 -4021 20
0.8478 -4361 -350
0.8495 -2959 1020
0.8512 -5538 -1590
0.8528 -3538 380
0.8545 -3975 -90
0.8562 -3154 700
0.8578 -4294 -470
0.8595 -4907 -1120
0.8612 -3490 260
0.8628 -2854 860
0.8645 -4277 -600
0.8662 -3490 150
0.8678 -3914 -310
0.8695 -2218 1330
0.8712 -4298 -810
0.9012 -2180 -310
0.9037 -500 1030
0.9062 840 2020
0.9087 -495 295
0.9112 384 514
0.9008 -1660 220
0.9025 -590 1090
0.9042 -1895 -455
0.9058 -600 600
0.9075 -110 860
0.9092 -1360 -730
0.9108 1040 1310
}\cCit
\pgfplotstableread{
t n
0.2150 1.0125
0.2180 1.0112
0.2200 1.0140
0.2210 1.0130
0.2240 1.0100
0.2270 1.0122
0.2300 1.0108
0.2340 1.0128
0.2380 1.0115
0.2420 1.0125
0.2460 1.0110
0.2820 1.0132
0.2850 1.0145
0.2880 1.0128
0.2900 1.0118
0.2910 1.0140
0.2950 1.0120
0.2990 1.0138
0.3030 1.0125
0.3070 1.0136
0.3110 1.0122
0.3140 1.0132
0.3540 1.0130
0.3580 1.0118
0.3620 1.0134
0.3660 1.0122
0.3700 1.0130
0.3740 1.0115
0.3780 1.0128
0.3820 1.0120
0.3840 1.0130
0.4200 1.0135
0.4240 1.0142
0.4280 1.0125
0.4300 1.0110
0.4320 1.0138
0.4360 1.0120
0.4400 1.0132
0.4440 1.0118
0.4465 1.0128
0.4920 1.0125
0.4960 1.0135
0.5000 1.0118
0.5020 1.0145
0.5040 1.0130
0.5080 1.0112
0.5120 1.0125
0.5160 1.0110
0.5200 1.0118
0.5580 1.0112
0.5620 1.0105
0.5660 1.0115
0.5700 1.0100
0.5740 1.0110
0.5780 1.0098
0.5820 1.0108
0.5860 1.0095
0.5900 1.0102
0.5940 1.0090
0.5980 1.0098
0.6320 1.0090
0.6350 1.0100
0.6360 1.0080
0.6400 1.0092
0.6440 1.0078
0.6480 1.0075
0.6520 1.0065
0.6560 1.0060
0.6590 1.0055
0.6970 1.0035
0.7000 1.0022
0.7020 1.0045
0.7040 1.0030
0.7080 1.0015
0.7120 1.0020
0.7160 1.0008
0.7200 1.0015
0.7240 1.0002
0.7280 1.0010
0.7320 0.9998
0.7360 1.0005
0.7640 0.9998
0.7670 0.9988
0.7700 0.9980
0.7730 0.9985
0.7760 0.9972
0.7790 0.9975
0.7820 0.9965
0.7860 0.9970
0.7900 0.9960
0.7940 0.9966
0.7980 0.9955
0.8340 0.9950
0.8380 0.9940
0.8420 0.9946
0.8460 0.9935
0.8500 0.9940
0.8540 0.9928
0.8580 0.9932
0.8620 0.9922
0.8660 0.9928
0.8700 0.9918
0.9020 0.9932
0.9060 0.9942
0.9100 0.9935
0.9140 0.9938
0.9180 0.9930
0.9220 0.9935
0.9260 0.9925
0.9300 0.9930
0.9340 0.9920
0.9380 0.9925
0.9700 0.9888
0.9740 0.9878
0.9780 0.9884
0.9820 0.9872
0.9860 0.9876
0.9900 0.9865
0.9940 0.9870
0.9980 0.9860
1.0020 0.9864
1.0370 0.9838
1.0410 0.9828
1.0450 0.9832
1.0490 0.9820
1.0530 0.9822
1.0570 0.9810
1.0610 0.9812
1.0650 0.9800
1.0690 0.9802
1.0730 0.9792
1.0760 0.9795
1.1100 0.9772
1.1140 0.9762
1.1180 0.9766
1.1220 0.9752
1.1260 0.9756
1.1300 0.9745
1.1340 0.9748
1.1390 0.9738
1.1740 0.9718
1.1780 0.9708
1.1820 0.9712
1.1860 0.9698
1.1900 0.9702
1.1940 0.9690
1.1980 0.9692
1.2020 0.9682
1.2060 0.9685
1.2100 0.9672
1.2140 0.9676
}\cCnc
\pgfplotstableread{
t n
0.170 1.0127
0.245 1.0122
0.252 1.0118
0.257 1.0190
0.261 1.0270
0.265 1.0275
0.270 1.0235
0.278 1.0170
0.288 1.0138
0.305 1.0128
0.312 1.0150
0.320 1.0215
0.328 1.0240
0.334 1.0228
0.345 1.0160
0.355 1.0130
0.385 1.0122
0.390 1.0160
0.395 1.0222
0.400 1.0233
0.407 1.0215
0.418 1.0150
0.425 1.0128
0.448 1.0120
0.454 1.0170
0.460 1.0225
0.465 1.0233
0.472 1.0210
0.485 1.0150
0.492 1.0120
0.522 1.0113
0.528 1.0180
0.535 1.0255
0.540 1.0263
0.547 1.0235
0.556 1.0150
0.562 1.0105
0.600 1.0093
0.603 1.0150
0.608 1.0230
0.612 1.0245
0.618 1.0225
0.626 1.0150
0.632 1.0085
0.660 1.0062
0.664 1.0110
0.670 1.0170
0.676 1.0181
0.683 1.0160
0.691 1.0080
0.696 1.0025
0.738 0.9998
0.741 1.0080
0.745 1.0130
0.750 1.0136
0.756 1.0110
0.763 1.0030
0.767 0.9990
0.800 0.9958
0.804 1.0020
0.810 1.0085
0.815 1.0093
0.822 1.0070
0.830 0.9990
0.834 0.9945
0.872 0.9918
0.876 0.9980
0.880 1.0045
0.884 1.0057
0.890 1.0035
0.898 0.9960
0.902 0.9935
0.940 0.9918
0.944 0.9960
0.949 1.0030
0.953 1.0039
0.960 1.0005
0.966 0.9915
0.970 0.9880
1.005 0.9858
1.009 0.9910
1.015 0.9975
1.019 0.9987
1.026 0.9960
1.032 0.9880
1.036 0.9835
1.078 0.9790
1.081 0.9840
1.085 0.9910
1.089 0.9924
1.096 0.9890
1.103 0.9810
1.108 0.9770
1.142 0.9738
1.146 0.9790
1.151 0.9855
1.156 0.9865
1.163 0.9835
1.169 0.9760
1.173 0.9715
1.215 0.9670
1.258 0.9633
}\cCtr
\pgfplotstableread{
t n
0.221 1.0121
0.240 1.0120
0.288 1.0135
0.304 1.0131
0.365 1.0127
0.373 1.0125
0.4255 1.0132
0.437 1.0127
0.500 1.0120
0.513 1.0119
0.564 1.0108
0.585 1.0102
0.596 1.0097
0.639 1.0084
0.652 1.0072
0.700 1.0029
0.716 1.0012
0.7317 1.0005
0.767 0.9994
0.776 0.9975
0.792 0.9964
0.840 0.9944
0.856 0.9930
0.867 0.9926
0.907 0.9938
0.931 0.9926
0.974 0.9881
0.995 0.9865
1.043 0.9829
1.059 0.9812
1.070 0.9798
1.118 0.9762
1.134 0.9744
1.178 0.9709
1.191 0.9696
1.210 0.9675
}\cCbn
\pgfplotstableread{
t d e
0.221 150 120
0.237 0 120
0.285 110 120
0.296 -45 120
0.309 350 120
0.360 150 120
0.373 -155 120
0.421 -120 120
0.437 0 120
0.500 215 120
0.513 200 120
0.564 -340 120
0.575 -340 120
0.588 -120 120
0.636 -385 120
0.652 -815 120
0.700 -3770 130
0.7157 -4120 130
0.7317 -4120 130
0.7635 -4690 400
0.776 -5140 130
0.795 -5150 130
0.840 -4380 130
0.856 -4720 130
0.867 -3890 450
0.904 -1230 130
0.915 260 130
0.931 510 130
0.979 120 120
0.998 -200 120
1.043 -280 120
1.051 -215 120
1.064 -110 120
1.115 -75 120
1.134 -75 120
1.182 -30 120
1.194 290 120
1.210 -120 200
}\cCbd
\pgfplotstableread{
t r e
0.221 120 120
0.238 -15 120
0.286 90 120
0.297 -50 120
0.308 350 120
0.359 140 120
0.374 -190 120
0.425 -120 120
0.439 -35 120
0.500 245 120
0.515 210 120
0.563 -365 120
0.573 -365 120
0.592 -140 120
0.635 -400 120
0.653 225 120
0.698 470 120
0.711 315 120
0.727 520 120
0.763 210 450
0.774 -190 120
0.791 -225 120
0.839 175 120
0.856 -470 120
0.868 155 430
0.904 490 120
0.919 555 120
0.934 520 120
0.977 105 120
0.996 -225 120
1.043 -310 120
1.054 -260 120
1.069 -140 120
1.118 -85 120
1.137 -85 120
1.180 -50 120
1.192 260 120
1.210 -210 200
}\cCbr
\newcommand\tabfont{\fontsize{11.8}{14}\selectfont}
\newcommand\ttl{\fontsize{14.3}{17}\dv\bfseries}
\newcommand\lbl{\fontsize{11.5}{13}\dv\bfseries}
\begin{document}
\begin{tikzpicture}
\path[use as bounding box] (0,0) rectangle (768.75pt,-705.75pt);
% ---- page header, caption and table ----
\node[anchor=base east, inner sep=0] at (727.5pt,-16.25pt) {\fontsize{15.2}{18}\selectfont\itshape Updated densities of the young V1298 Tau system};
\node[anchor=base east, inner sep=0] at (762pt,-16.25pt) {\fontsize{15.2}{18}\selectfont 3};
\node[anchor=base west, inner sep=0] at (6pt,-59.25pt) {\tabfont\frenchspacing\makebox[756.75pt][s]{\textbf{Table 1.} Log of CHEOPS observations of V1298 Tau with start and end times, duration of observations, exposure time, number of data points, observing}};
\node[anchor=base west, inner sep=0] at (6pt,-71.75pt) {\tabfont efficiency, and planet(s) observed during each visit.};
\draw[line width=1pt] (31.5pt,-84.75pt) -- (737.25pt,-84.75pt);
\draw[line width=0.6pt] (31.5pt,-122.25pt) -- (737.25pt,-122.25pt);
\draw[line width=1pt] (31.5pt,-184.5pt) -- (737.25pt,-184.5pt);
\begin{scope}[every node/.style={anchor=base, inner sep=0, font=\tabfont}]
\node[anchor=base west] at (42pt,-101.25pt) {Visit};
\node at (135pt,-101.25pt) {Start Time};
\node at (135pt,-115.5pt) {(UTC)};
\node at (258.75pt,-101.25pt) {End Time};
\node at (258.75pt,-115.5pt) {(UTC)};
\node at (351pt,-101.25pt) {Duration};
\node at (351pt,-115.5pt) {(h)};
\node at (426pt,-101.25pt) {Exposure Time};
\node at (426pt,-115.5pt) {(s)};
\node at (513.75pt,-101.25pt) {Data Points};
\node at (513.75pt,-115.5pt) {(Non-flagged)};
\node at (590.25pt,-101.25pt) {Efficiency};
\node at (590.25pt,-115.5pt) {(\%)};
\node at (679.5pt,-101.25pt) {Transit(s) Observed};
\foreach \y/\v/\s/\e/\du/\dp/\ef/\tr in {
 -138.75pt/1/2021-12-03T19:49:03/2021-12-04T20:25:20/24.60/1733/58.7/V1298 Tau d,
 -152.25pt/2/2021-12-14T19:22:23/2021-12-15T16:26:29/21.07/1487/58.8/V1298 Tau c,
 -165pt/3/2021-12-28T13:29:43/2021-12-29T14:06:00/24.60/1632/55.3/{V1298 Tau b, d},
 -177.75pt/4/2022-01-21T17:06:42/2022-01-22T17:02:27/23.93/1542/53.7/V1298 Tau b}{
 \node[anchor=base west] at (42pt,\y) {\v};
 \node at (135pt,\y) {\s};
 \node at (258.75pt,\y) {\e};
 \node at (351pt,\y) {\du};
 \node at (426pt,\y) {30.0};
 \node at (513.75pt,\y) {\dp};
 \node at (590.25pt,\y) {\ef};
 \node at (679.5pt,\y) {\tr};
}
\end{scope}
% ---- titles and labels ----
\node[anchor=base, inner sep=0] at (166.5pt,-233.25pt) {\ttl V1298 Tau c};
\node[anchor=base, inner sep=0] at (412.1pt,-233.25pt) {\ttl V1298 Tau d};
\node[anchor=base, inner sep=0] at (657.4pt,-233.25pt) {\ttl V1298 Tau b};
\node[rotate=90, inner sep=0] at (25.5pt,-309pt) {\lbl Normalized Flux};
\node[rotate=90, inner sep=0] at (25.5pt,-490.1pt) {\lbl Detrended Flux};
\node[rotate=90, inner sep=0] at (21pt,-633.75pt) {\fontsize{9.2}{11}\dv\bfseries Residuals [ppm]};
\node[anchor=base, inner sep=0] at (166.9pt,-698.25pt) {\lbl Time (BJD-2459563)};
\node[anchor=base, inner sep=0] at (412.1pt,-698.25pt) {\lbl Time (BJD-2459552)};
\node[anchor=base, inner sep=0] at (657.4pt,-698.25pt) {\lbl Time (BJD-2459601)};
% ================= ROW 1 =================
\begin{axis}[P, at={(72.75pt,-235.5pt)}, height=147pt,
  xmin=0.309, xmax=1.02, ymin=0.98925, ymax=1.00925,
  xtick={0.4,0.6,0.8,1.0}, xticklabels={0.4,0.6,0.8,1.0}, minor xtick={0.35,0.40,...,1.0},
  ytick={0.990,0.995,1.000,1.005}, yticklabels={0.990,0.995,1.000,1.005}, minor ytick={0.990,0.991,...,1.0091}]
\addplot[sc1] table[x=t,y=n]{\cAnc};
\addplot[brn, line width=1.6pt] table[x=t,y=n]{\cAtr};
\addplot[bn] table[x=t,y=n]{\cAbn};
\end{axis}
\begin{axis}[P, at={(318pt,-235.5pt)}, height=147pt,
  xmin=0.276, xmax=1.399, ymin=0.9757, ymax=1.047,
  xtick={0.5,0.75,1.0,1.25}, xticklabels={0.50,0.75,1.00,1.25}, minor xtick={0.3125,0.375,...,1.38},
  ytick={0.98,1.00,1.02,1.04}, yticklabels={0.98,1.00,1.02,1.04}, minor ytick={0.98,0.985,...,1.046}]
\addplot[sc1] table[x=t,y=n]{\cBnc};
\addplot[brn, line width=1.6pt] table[x=t,y=n]{\cBtr};
\addplot[bn] table[x=t,y=n]{\cBbn};
\end{axis}
\begin{axis}[P, at={(563.25pt,-235.5pt)}, height=147pt,
  xmin=0.115, xmax=1.316, ymin=0.9596, ymax=1.0309,
  xtick={0.25,0.5,0.75,1.0,1.25}, xticklabels={0.25,0.50,0.75,1.00,1.25}, minor xtick={0.125,0.1875,...,1.3125},
  ytick={0.96,0.98,1.00,1.02}, yticklabels={0.96,0.98,1.00,1.02}, minor ytick={0.96,0.965,...,1.0305}]
\addplot[sc1] table[x=t,y=n]{\cCnc};
\addplot[brn, line width=1.6pt] table[x=t,y=n]{\cCtr};
\addplot[bn] table[x=t,y=n]{\cCbn};
\end{axis}
% ================= ROW 2 =================
\begin{axis}[P, at={(72.75pt,-416.25pt)}, height=147.75pt,
  xmin=0.309, xmax=1.02, ymin=-2790, ymax=2170,
  xtick={0.4,0.6,0.8,1.0}, xticklabels={0.4,0.6,0.8,1.0}, minor xtick={0.35,0.40,...,1.0},
  ytick={-2000,-1000,0,1000,2000}, yticklabels={0.998,0.999,1.000,1.001,1.002}, minor ytick={-2600,-2400,...,2000}]
\addplot[sc] table[x=t,y=r]{\cAoot};
\addplot[sc] table[x=t,y=d]{\cAit};
\addplot[fill=brn, draw=none, fill opacity=0.85] coordinates {(0.546,-250)(0.550,-560)(0.555,-700)(0.560,-790)(0.570,-880)(0.580,-950)(0.600,-1030)(0.620,-1080)(0.645,-1100)(0.670,-1080)(0.690,-1030)(0.710,-950)(0.720,-890)(0.730,-810)(0.738,-700)(0.742,-560)(0.745,-250)(0.745,-350)(0.742,-760)(0.738,-900)(0.730,-1000)(0.720,-1090)(0.710,-1150)(0.690,-1230)(0.670,-1270)(0.645,-1290)(0.620,-1270)(0.600,-1230)(0.580,-1150)(0.570,-1080)(0.560,-980)(0.555,-900)(0.550,-760)(0.546,-350)};
\addplot[mag, line width=1.8pt] coordinates {(0.340,0)(0.544,0)(0.546,-300)(0.550,-650)(0.555,-780)(0.560,-860)(0.570,-950)(0.580,-1010)(0.600,-1080)(0.620,-1120)(0.645,-1140)(0.670,-1120)(0.690,-1080)(0.710,-1010)(0.720,-960)(0.730,-880)(0.738,-780)(0.742,-650)(0.745,-300)(0.747,0)(0.990,0)};
\addplot[bne] table[x=t,y=d,y error=e]{\cAbd};
\end{axis}
\begin{axis}[P, at={(318pt,-416.25pt)}, height=147.75pt,
  xmin=0.276, xmax=1.399, ymin=-5170, ymax=2850,
  xtick={0.5,0.75,1.0,1.25}, xticklabels={0.50,0.75,1.00,1.25}, minor xtick={0.3125,0.375,...,1.38},
  ytick={-4000,-2000,0,2000}, yticklabels={0.996,0.998,1.000,1.002}, minor ytick={-5000,-4500,...,2500}]
\addplot[sc] table[x=t,y=r]{\cBoot};
\addplot[sc] table[x=t,y=d]{\cBit};
\addplot[fill=brn, draw=none, fill opacity=0.85] coordinates {(0.7225,-380)(0.735,-1500)(0.7535,-2060)(0.7785,-2480)(0.8085,-2700)(0.8385,-2760)(0.8685,-2700)(0.8985,-2480)(0.9235,-2060)(0.942,-1500)(0.9545,-380)(0.9545,-420)(0.942,-1620)(0.9235,-2200)(0.8985,-2620)(0.8685,-2850)(0.8385,-2910)(0.8085,-2850)(0.7785,-2620)(0.7535,-2200)(0.735,-1620)(0.7225,-420)};
\addplot[mag, line width=1.8pt] coordinates {(0.330,0)(0.7205,0)(0.7225,-400)(0.725,-750)(0.7285,-1100)(0.735,-1550)(0.7435,-1850)(0.7535,-2120)(0.7635,-2330)(0.7785,-2540)(0.7985,-2700)(0.8185,-2790)(0.8385,-2830)(0.8585,-2790)(0.8785,-2700)(0.8985,-2540)(0.9135,-2330)(0.9235,-2120)(0.9335,-1850)(0.942,-1550)(0.9485,-1100)(0.952,-750)(0.9545,-400)(0.9565,0)(1.350,0)};
\addplot[bne] table[x=t,y=d,y error=e]{\cBbd};
\end{axis}
\begin{axis}[P, at={(563.25pt,-416.25pt)}, height=147.75pt,
  xmin=0.115, xmax=1.316, ymin=-6710, ymax=2380,
  xtick={0.25,0.5,0.75,1.0,1.25}, xticklabels={0.25,0.50,0.75,1.00,1.25}, minor xtick={0.125,0.1875,...,1.3125},
  ytick={-6000,-4000,-2000,0,2000}, yticklabels={0.994,0.996,0.998,1.000,1.002}, minor ytick={-6500,-6000,...,2000}]
\addplot[sc] table[x=t,y=r]{\cCoot};
\addplot[sc] table[x=t,y=d]{\cCit};
\addplot[fill=brn, draw=none, fill opacity=0.85] coordinates {(0.652,-1480)(0.670,-2860)(0.698,-3780)(0.730,-4300)(0.778,-4560)(0.826,-4300)(0.858,-3780)(0.886,-2860)(0.904,-1480)(0.904,-1560)(0.886,-3000)(0.858,-3960)(0.826,-4500)(0.778,-4760)(0.730,-4500)(0.698,-3960)(0.670,-3000)(0.652,-1560)};
\addplot[mag, line width=1.8pt] coordinates {(0.170,0)(0.644,0)(0.648,-900)(0.652,-1500)(0.657,-2100)(0.663,-2450)(0.670,-2900)(0.678,-3250)(0.688,-3600)(0.698,-3820)(0.713,-4100)(0.730,-4340)(0.753,-4540)(0.778,-4600)(0.803,-4540)(0.826,-4340)(0.843,-4100)(0.858,-3820)(0.868,-3600)(0.878,-3250)(0.886,-2900)(0.893,-2450)(0.899,-2100)(0.904,-1500)(0.908,-900)(0.912,0)(1.300,0)};
\addplot[bne] table[x=t,y=d,y error=e]{\cCbd};
\end{axis}
% ================= ROW 3 =================
\begin{axis}[P, at={(72.75pt,-597pt)}, height=73.5pt,
  xmin=0.338, xmax=0.987, ymin=-2170, ymax=2150,
  xtick={0.4,0.6,0.8}, xticklabels={0.4,0.6,0.8}, minor xtick={0.35,0.40,...,0.96},
  ytick={-2000,0,2000}, yticklabels={−2000,0,2000}, minor ytick={-2000,-1500,...,2000}]
\addplot[sc] table[x=t,y=r]{\cAoot};
\addplot[sc] table[x=t,y=r]{\cAit};
\addplot[black!80, dash pattern=on 3pt off 1.5pt, line width=0.5pt] coordinates {(0.3,0)(1.0,0)};
\addplot[bne] table[x=t,y=r,y error=e]{\cAbr};
\end{axis}
\begin{axis}[P, at={(318pt,-597pt)}, height=73.5pt,
  xmin=0.327, xmax=1.349, ymin=-3000, ymax=3030,
  xtick={0.5,0.75,1.0,1.25}, xticklabels={0.50,0.75,1.00,1.25}, minor xtick={0.375,0.4375,...,1.32},
  ytick={-2000,0,2000}, yticklabels={−2000,0,2000}, minor ytick={-3000,-2500,...,3000}]
\addplot[sc] table[x=t,y=r]{\cBoot};
\addplot[sc] table[x=t,y=r]{\cBit};
\addplot[black!80, dash pattern=on 3pt off 1.5pt, line width=0.5pt] coordinates {(0.3,0)(1.4,0)};
\addplot[bne] table[x=t,y=r,y error=e]{\cBbr};
\end{axis}
\begin{axis}[P, at={(563.25pt,-597pt)}, height=73.5pt,
  xmin=0.167, xmax=1.262, ymin=-2530, ymax=2550,
  xtick={0.25,0.5,0.75,1.0,1.25}, xticklabels={0.25,0.50,0.75,1.00,1.25}, minor xtick={0.1875,0.25,...,1.25},
  ytick={-2000,0,2000}, yticklabels={−2000,0,2000}, minor ytick={-2500,-2000,...,2500}]
\addplot[sc] table[x=t,y=r]{\cCoot};
\addplot[sc] table[x=t,y=r]{\cCit};
\addplot[black!80, dash pattern=on 3pt off 1.5pt, line width=0.5pt] coordinates {(0.1,0)(1.3,0)};
\addplot[bne] table[x=t,y=r,y error=e]{\cCbr};
\end{axis}
\end{tikzpicture}
\end{document}
